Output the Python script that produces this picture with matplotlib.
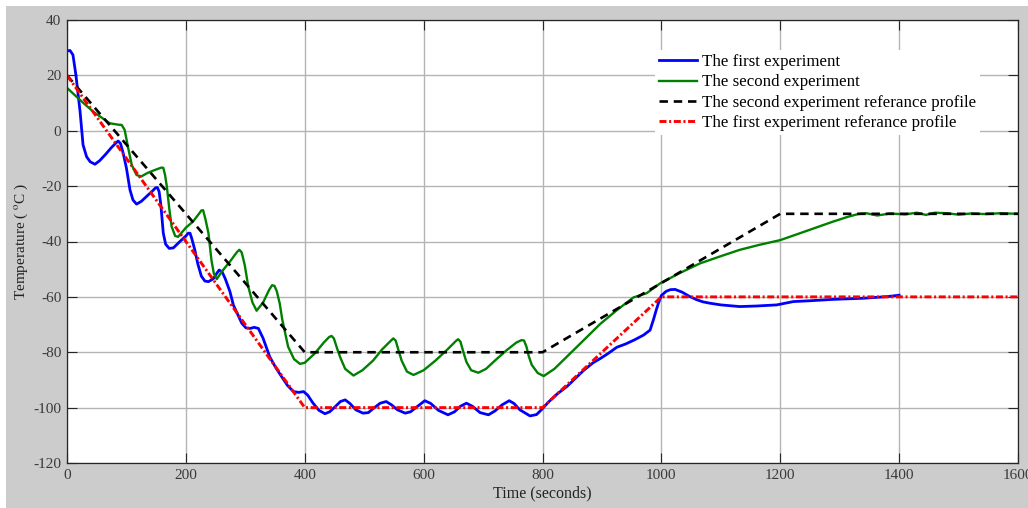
import matplotlib
matplotlib.use("Agg")
import matplotlib.pyplot as plt
from matplotlib.patches import Rectangle

plt.rcParams["font.family"] = ["Liberation Serif", "DejaVu Serif"]
plt.rcParams["mathtext.fontset"] = "stix"
plt.rcParams["axes.unicode_minus"] = False

# first experiment (measured), seconds / degC
t1 = [0, 5, 10, 15, 22, 27, 33, 39, 47, 55, 65, 75, 82, 86, 90, 95, 100, 106, 111, 117,
      125, 135, 145, 149, 152, 155, 158, 162, 166, 172, 179, 190, 200, 204, 207, 210,
      215, 220, 226, 232, 238, 246, 252, 256, 261, 266, 274, 280, 294, 301, 308, 315,
      322, 330, 341, 351, 361, 371, 381, 390, 398, 405, 414, 424, 434, 442, 452, 460,
      468, 476, 486, 498, 507, 516, 527, 537, 546, 556, 569, 578, 590, 602, 612, 625,
      641, 652, 662, 672, 682, 695, 709, 720, 732, 744, 752, 762, 779, 790, 799, 810,
      825, 841, 855, 869, 885, 897, 910, 925, 940, 955, 970, 981, 987, 991, 995, 1000,
      1008, 1015, 1023, 1035, 1047, 1059, 1070, 1082, 1100, 1132, 1160, 1194, 1210,
      1222, 1250, 1289, 1340, 1380, 1400]
temp1 = [28.8, 29.0, 27.4, 20.1, 6.9, -5.1, -9.4, -11.2, -12.1, -10.8, -8.5, -6.0, -4.5,
         -3.7, -4.6, -8.5, -13.5, -21.4, -25.0, -26.5, -25.5, -23.5, -21.5, -20.6, -20.5,
         -22.0, -27.0, -37.0, -41.0, -42.5, -42.3, -40.0, -38.0, -37.0, -37.0, -39.0,
         -43.0, -48.0, -52.5, -54.3, -54.5, -53.5, -51.5, -50.3, -51.0, -53.3, -58.0,
         -63.0, -69.5, -71.2, -71.4, -71.0, -71.4, -75.0, -81.6, -85.5, -88.8, -92.0,
         -94.2, -94.5, -94.2, -95.5, -98.4, -101.0, -102.2, -101.5, -99.5, -97.8, -97.2,
         -98.5, -100.8, -102.0, -101.8, -100.2, -98.4, -97.8, -99.0, -100.8, -102.0,
         -101.5, -99.5, -97.5, -98.5, -101.0, -102.6, -101.5, -99.5, -98.4, -99.5,
         -101.8, -102.6, -101.2, -99.0, -97.5, -98.5, -100.8, -103.0, -102.5, -100.6,
         -98.0, -95.0, -92.4, -89.5, -86.6, -83.8, -82.3, -80.5, -78.2, -77.0, -75.5,
         -73.8, -72.0, -68.0, -65.0, -62.3, -59.5, -58.0, -57.4, -57.3, -58.3, -59.8,
         -61.0, -61.8, -62.3, -62.9, -63.5, -63.3, -62.9, -62.2, -61.7, -61.4, -60.9,
         -60.5, -59.9, -59.4]

# second experiment (measured)
t2 = [0, 22, 44, 64, 72, 86, 92, 97, 103, 109, 117, 125, 135, 145, 155, 159, 162, 165,
      168, 172, 176, 182, 187, 200, 212, 222, 226, 229, 233, 238, 243, 247, 252, 260,
      275, 286, 290, 294, 299, 305, 312, 319, 330, 340, 345, 349, 353, 358, 362, 372,
      382, 392, 400, 417, 432, 441, 445, 449, 455, 460, 468, 482, 497, 515, 530, 545,
      549, 553, 558, 563, 572, 583, 600, 620, 640, 654, 658, 662, 667, 672, 680, 692,
      705, 720, 740, 756, 765, 769, 773, 777, 782, 792, 802, 820, 841, 870, 897, 925,
      953, 975, 998, 1030, 1065, 1100, 1132, 1165, 1200, 1240, 1289, 1315, 1331, 1345,
      1363, 1385, 1410, 1430, 1445, 1460, 1480, 1500, 1520, 1545, 1570, 1600]
temp2 = [15.5, 11.1, 6.9, 3.9, 2.7, 2.2, 2.1, 0.3, -6.3, -12.4, -16.0, -16.5, -15.3,
         -14.4, -13.6, -13.3, -13.4, -16.0, -20.2, -28.0, -34.6, -38.0, -38.3, -35.0,
         -32.8, -30.0, -28.8, -28.7, -32.0, -37.0, -46.7, -51.5, -53.6, -51.0, -47.0,
         -43.8, -43.0, -44.0, -48.5, -56.3, -62.0, -65.0, -62.0, -57.5, -55.8, -56.0,
         -58.0, -62.5, -68.0, -78.0, -82.5, -84.2, -83.8, -80.4, -76.5, -74.5, -74.1,
         -75.0, -79.0, -82.0, -86.0, -88.4, -86.5, -83.0, -79.0, -75.8, -75.0, -75.8,
         -79.5, -83.0, -87.0, -88.2, -86.5, -83.0, -79.0, -76.0, -75.3, -76.2, -80.0,
         -83.5, -86.5, -87.4, -86.0, -83.0, -79.2, -76.5, -75.6, -75.8, -78.0, -81.5,
         -84.6, -87.5, -88.6, -86.0, -81.6, -75.5, -69.8, -64.8, -60.2, -58.7, -55.1,
         -51.5, -47.9, -45.3, -43.0, -41.2, -39.5, -36.5, -32.8, -31.0, -30.1, -29.8,
         -30.6, -29.9, -30.2, -29.6, -30.4, -29.6, -29.8, -30.3, -29.9, -30.1, -29.8,
         -30.0]

# reference profiles
ref2_t = [0, 400, 800, 1200, 1600]
ref2_temp = [20, -80, -80, -30, -30]
ref1_t = [0, 400, 800, 1000, 1600]
ref1_temp = [20, -100, -100, -60, -60]

W, H = 1028, 508
fig = plt.figure(figsize=(W / 100, H / 100), dpi=100, facecolor="white")
fig.patches.append(Rectangle((6 / W, 0), 1, 1 - 6 / H, transform=fig.transFigure,
                             facecolor="#cccccc", edgecolor="none", zorder=-10))

ax = fig.add_axes([67 / W, 1 - 463 / H, (1018 - 67) / W, (463 - 20) / H])
ax.plot(t1, temp1, color="#0000ff", lw=2.0, label="The first experiment")
ax.plot(t2, temp2, color="#008000", lw=1.7, label="The second experiment")
ax.plot(ref2_t, ref2_temp, color="black", lw=1.9, linestyle=(0, (3.2, 2.2)),
        label="The second experiment referance profile")
ax.plot(ref1_t, ref1_temp, color="#ff0000", lw=2.1, linestyle=(0, (2.4, 0.9, 0.7, 0.9)),
        label="The first experiment referance profile")

ax.set_xlim(0, 1600)
ax.set_ylim(-120, 40)
ax.set_xticks(range(0, 1601, 200))
ax.set_yticks(range(-120, 41, 20))
ax.grid(True, color="#b4b4b4", lw=1.0)
ax.set_axisbelow(True)
ax.tick_params(direction="in", length=7, width=0.8, top=True, right=True,
               labelsize=11, labelcolor="#3a3a3a", color="#262626", pad=4)
for sp in ax.spines.values():
    sp.set_color("#262626")
    sp.set_linewidth(0.9)

ax.set_xlabel("Time (seconds)", fontsize=11.5, color="#222222", labelpad=3)
ax.set_ylabel(r"Temperature ( $^{\rm o}$C )", fontsize=11, color="#222222")
ax.yaxis.set_label_coords((30 - 67) / 951, 0.5)

leg = ax.legend(loc="upper left", bbox_to_anchor=((655 - 67) / 951, (463 - 50) / 443),
                fontsize=12.2, frameon=True, fancybox=False, borderpad=0.25,
                handlelength=2.2, handletextpad=0.3, labelspacing=0.25,
                borderaxespad=0)
leg.get_frame().set_edgecolor("none")
leg.get_frame().set_facecolor("white")
leg.get_frame().set_alpha(1)

fig.savefig("out.png", dpi=100, facecolor=fig.get_facecolor())
